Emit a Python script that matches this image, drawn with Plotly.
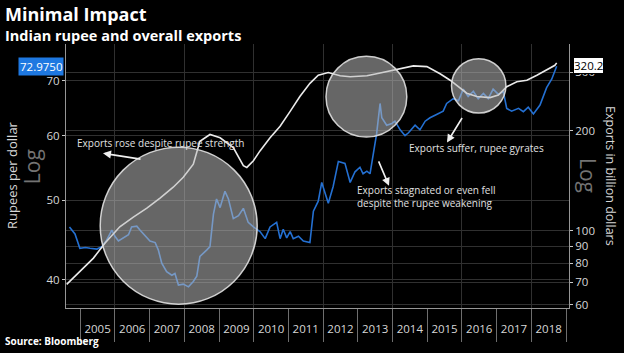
import datetime as dt
import math
import plotly.graph_objects as go

# ---------------- data ----------------
# Rupees per US dollar (decimal year, value)
rupee_t = [2004.69, 2004.85, 2004.99, 2005.15, 2005.28, 2005.48, 2005.62, 2005.76, 2005.91, 2006.00,
           2006.10, 2006.24, 2006.39, 2006.48, 2006.63, 2006.72, 2006.87, 2007.01, 2007.16, 2007.25,
           2007.35, 2007.49, 2007.64, 2007.73, 2007.83, 2007.97, 2008.12, 2008.26, 2008.36, 2008.45,
           2008.65, 2008.74, 2008.84, 2008.93, 2009.03, 2009.17, 2009.27, 2009.41, 2009.56, 2009.70,
           2009.84, 2009.99, 2010.18, 2010.33, 2010.47, 2010.66, 2010.76, 2010.85, 2010.95, 2011.05,
           2011.14, 2011.29, 2011.43, 2011.62, 2011.72, 2011.86, 2011.96, 2012.05, 2012.15, 2012.29,
           2012.44, 2012.63, 2012.78, 2012.92, 2013.06, 2013.15, 2013.26, 2013.35, 2013.40, 2013.54,
           2013.64, 2013.69, 2013.83, 2013.98, 2014.07, 2014.22, 2014.36, 2014.46, 2014.65, 2014.79,
           2014.94, 2015.08, 2015.27, 2015.46, 2015.56, 2015.75, 2015.90, 2016.04, 2016.18, 2016.33,
           2016.47, 2016.62, 2016.76, 2016.90, 2017.05, 2017.19, 2017.29, 2017.43, 2017.63, 2017.77,
           2017.91, 2018.06, 2018.25, 2018.44, 2018.59, 2018.73]
rupee_v = [46.4, 45.5, 43.7, 43.8, 43.7, 43.6, 43.9, 44.7, 46.0, 45.2,
           44.6, 45.0, 45.4, 46.4, 46.5, 46.0, 45.2, 44.6, 44.4, 43.5,
           41.9, 40.9, 40.5, 40.7, 39.4, 39.5, 39.2, 39.8, 40.4, 42.7,
           43.5, 43.9, 48.1, 50.2, 49.0, 51.3, 50.2, 47.5, 47.9, 48.9,
           47.0, 46.4, 45.8, 44.9, 46.4, 47.0, 44.9, 46.1, 45.0, 45.8,
           44.9, 45.2, 44.6, 44.4, 48.5, 49.9, 52.6, 51.2, 49.6, 52.0,
           55.8, 55.5, 52.6, 54.2, 54.9, 53.9, 54.3, 53.9, 55.7, 60.3,
           65.7, 63.1, 61.8, 62.1, 62.5, 61.0, 60.0, 60.5, 61.8, 61.0,
           62.5, 63.1, 63.7, 64.3, 65.7, 66.6, 66.2, 68.4, 67.0, 68.0,
           66.6, 67.6, 66.6, 68.4, 67.4, 68.0, 64.8, 64.3, 64.8, 64.2,
           65.0, 63.8, 65.4, 68.7, 70.4, 72.975]

# Exports, billion dollars (decimal year, value)
exports_t = [2004.61, 2004.99, 2005.38, 2005.71, 2006.14, 2006.53, 2006.92, 2007.30, 2007.68, 2007.97,
             2008.26, 2008.45, 2008.74, 2009.03, 2009.41, 2009.70, 2009.80, 2009.99, 2010.18, 2010.47,
             2010.76, 2011.05, 2011.33, 2011.62, 2011.86, 2012.15, 2012.49, 2012.78, 2013.26, 2013.54,
             2014.20, 2014.60, 2014.99, 2015.37, 2015.66, 2015.95, 2016.14, 2016.43, 2016.81, 2017.05,
             2017.29, 2017.58, 2017.87, 2018.16, 2018.44, 2018.68, 2018.73]
exports_v = [69, 75.6, 82.8, 91.8, 102.9, 110, 117, 125.5, 135.3, 145,
             158.7, 186, 195, 190.6, 178, 157, 155.2, 162.5, 174, 190.6,
             206.5, 228.8, 253.7, 277.9, 294, 299.6, 293, 291, 293, 297,
             306.5, 313.6, 312, 297, 284, 268, 259.5, 253.6, 251.8, 256.3,
             271.5, 280.9, 284, 294, 304.5, 315, 320.2]

year_labels = [str(y) for y in range(2005, 2019)]
rupee_ticks = [40, 50, 60, 70]
export_ticks = [60, 70, 80, 90, 100, 200, 300]

# ---------------- helpers ----------------
def yr2date(f):
    y = int(f)
    return dt.datetime(y, 1, 1) + dt.timedelta(days=(f - y) * 365.25)

X0, X1 = 2004.591, 2019.086
xr = [yr2date(X0), yr2date(X1)]

W, H = 624, 353
ML, MR, MT, MB = 66, 55, 44, 41
PW, PH = W - ML - MR, H - MT - MB

def px(x):
    return (x - ML) / PW

def py(y):
    return (H - MB - y) / PH

TXT = "rgb(215,215,215)"
FONT = "Open Sans"

fig = go.Figure()
fig.add_trace(go.Scatter(x=[yr2date(t) for t in rupee_t], y=rupee_v, mode="lines",
                         line=dict(color="rgb(36,112,210)", width=1.6), yaxis="y", xaxis="x",
                         hoverinfo="skip", showlegend=False))
fig.add_trace(go.Scatter(x=[yr2date(t) for t in exports_t], y=exports_v, mode="lines",
                         line=dict(color="rgb(235,235,235)", width=1.6), yaxis="y2", xaxis="x",
                         hoverinfo="skip", showlegend=False))
# carriers for the year-label / separator axes
fig.add_trace(go.Scatter(x=[xr[0]], y=[50], mode="none", xaxis="x2", yaxis="y",
                         hoverinfo="skip", showlegend=False))
fig.add_trace(go.Scatter(x=[xr[0]], y=[50], mode="none", xaxis="x3", yaxis="y",
                         hoverinfo="skip", showlegend=False))

grid = "rgb(48,48,48)"
year_ticks = [dt.datetime(int(y), 1, 1) for y in year_labels] + [dt.datetime(int(year_labels[-1]) + 1, 1, 1)]
fig.update_layout(
    width=W, height=H,
    margin=dict(l=ML, r=MR, t=MT, b=MB),
    paper_bgcolor="black", plot_bgcolor="black",
    font=dict(family=FONT, color=TXT, size=11),
    xaxis=dict(type="date", range=xr, showgrid=True, gridcolor=grid, gridwidth=1,
               dtick="M24", tick0="2006-01-01", showticklabels=False, ticks="",
               showline=False, zeroline=False, fixedrange=True),
    xaxis2=dict(type="date", range=xr, overlaying="x", anchor="y", side="bottom",
                showgrid=False, ticklabelmode="period", dtick="M12", tick0="2005-01-01",
                ticks="", tickformat="%Y", ticklabelstandoff=10,
                showline=True, linecolor="rgb(150,150,150)", linewidth=1,
                tickfont=dict(size=11.5, color=TXT), zeroline=False),
    xaxis3=dict(type="date", range=xr, overlaying="x", anchor="y", side="bottom",
                showgrid=False, tickvals=year_ticks, showticklabels=False,
                ticks="outside", ticklen=33, tickcolor="rgb(110,110,110)", tickwidth=1,
                showline=False, zeroline=False),
    yaxis=dict(type="log", range=[1.5674, 1.8903], tickvals=rupee_ticks,
               ticktext=[str(v) for v in rupee_ticks], ticks="outside", ticklen=3,
               tickcolor="rgb(200,200,200)", showline=True, linecolor="rgb(150,150,150)",
               showgrid=True, gridcolor=grid, zeroline=False, tickfont=dict(size=11.5, color=TXT)),
    yaxis2=dict(type="log", range=[1.7679, 2.5623], overlaying="y", side="right", anchor="x",
                tickvals=export_ticks, ticktext=[str(v) for v in export_ticks],
                ticks="outside", ticklen=3, tickcolor="rgb(200,200,200)", showline=True,
                linecolor="rgb(150,150,150)", showgrid=True, gridcolor=grid, zeroline=False,
                tickfont=dict(size=11.5, color=TXT)),
)

# circles (pixel geometry, paper anchors)
for cx, cy, r in [(178.7, 228.4, 78.5), (366.4, 97.5, 40.4), (478.7, 86.5, 27.2)]:
    fig.add_shape(type="circle", xref="paper", yref="paper", xsizemode="pixel", ysizemode="pixel",
                  xanchor=px(cx), yanchor=py(cy), x0=-r, x1=r, y0=-r, y1=r,
                  fillcolor="rgba(185,185,185,0.55)", line=dict(color="rgba(225,225,225,0.9)", width=1.5),
                  layer="above")

ann = []
def text(x, y, s, size=10, color=TXT, xanchor="left", yanchor="middle", bold=False, angle=0,
         family=FONT, align="left"):
    ann.append(dict(x=px(x), y=py(y), xref="paper", yref="paper", text=s, showarrow=False,
                    xanchor=xanchor, yanchor=yanchor, textangle=angle, align=align,
                    font=dict(size=size, color=color, family=family,
                              weight="bold" if bold else "normal")))

def arrow(hx, hy, tx, ty):
    ann.append(dict(x=px(hx), y=py(hy), xref="paper", yref="paper", text="", showarrow=True,
                    ax=tx - hx, ay=ty - hy, arrowhead=2, arrowsize=1, arrowwidth=1.6,
                    arrowcolor="rgb(240,240,240)"))

# titles
text(3, 14, "Minimal Impact", size=18, color="white", bold=True)
text(3, 35, "Indian rupee and overall exports", size=14.5, color="white", bold=True)
text(3, 345, "Source: Bloomberg", size=10, color="white", bold=True)

# axis titles
text(12, 177, "Rupees per dollar", size=13, color=TXT, xanchor="center", angle=-90)
text(32, 169, "Log", size=21, color="rgb(115,115,115)", xanchor="center", angle=-90)
text(611, 178, "Exports in billion dollars", size=12.5, color=TXT, xanchor="center", angle=90)
text(588, 177, "Log", size=21, color="rgb(115,115,115)", xanchor="center", angle=90)

# callouts
text(75, 144, "Exports rose despite rupee strength", size=10, color="rgb(225,225,225)")
text(355, 199, "Exports stagnated or even fell<br>despite the rupee weakening", size=10,
     color="rgb(225,225,225)")
text(407, 150, "Exports suffer, rupee gyrates", size=10, color="rgb(225,225,225)")
arrow(103, 155, 142, 161)
arrow(389, 188, 378, 162)
arrow(447, 144, 463, 118)

# value badges (log axes -> annotation y in log10 units)
ann.append(dict(x=px(64), y=math.log10(rupee_v[-1]), xref="paper", yref="y", text="72.9750",
                showarrow=False, xanchor="right", yanchor="middle", bgcolor="rgb(30,120,225)",
                borderpad=1, font=dict(size=11.5, color="white", family=FONT)))
ann.append(dict(x=1, y=math.log10(exports_v[-1]), xref="paper", yref="y2", text="320.2",
                showarrow=False, xanchor="left", yanchor="middle", xshift=4, yshift=-3,
                bgcolor="white", borderpad=0, bordercolor="black",
                font=dict(size=11.5, color="black", family=FONT)))

fig.update_layout(annotations=ann)
fig.write_html("out.html")
